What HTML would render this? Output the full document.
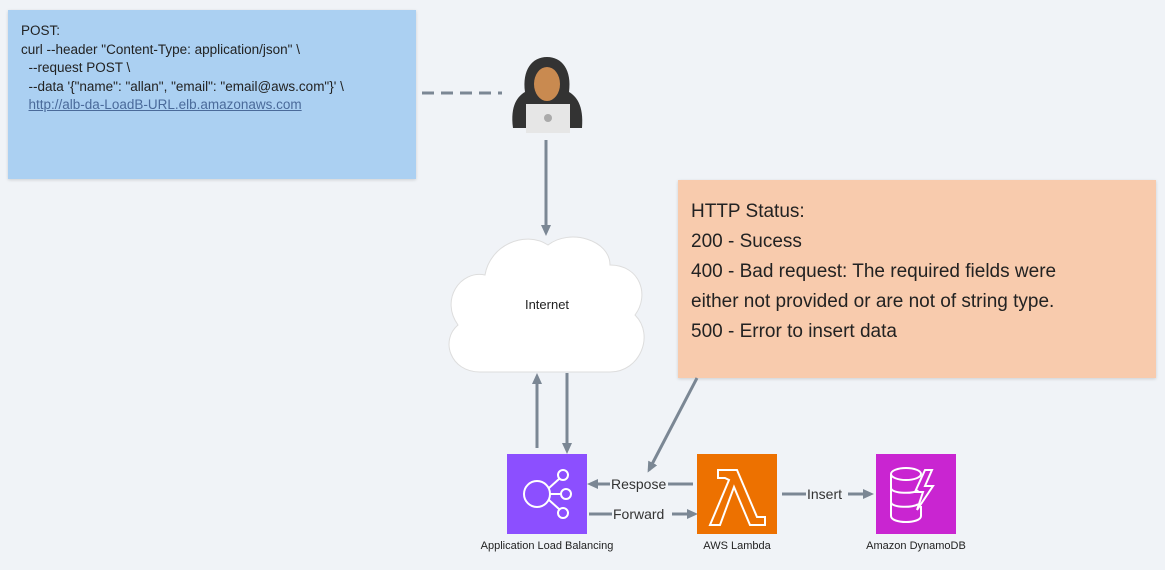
<!DOCTYPE html>
<html><head><style>
body{margin:0;width:1165px;height:570px;background:#f0f3f7;position:relative;overflow:hidden;font-family:"Liberation Sans",sans-serif}
.blue{position:absolute;left:8px;top:10px;width:408px;height:169px;background:#abd0f2;box-shadow:0 1px 3px rgba(0,0,0,.15);font-size:13.5px;color:#222;line-height:18.5px;padding:12px 13px;box-sizing:border-box;white-space:pre}
.orange{position:absolute;left:678px;top:180px;width:478px;height:198px;background:#f8cbad;box-shadow:0 1px 3px rgba(0,0,0,.15);font-size:19px;color:#222;line-height:30px;padding:17px 30px 17px 13px;box-sizing:border-box}
.lbl{position:absolute;font-size:11px;color:#222;text-align:center;width:200px}
</style></head><body>
<div class="blue">POST:
curl --header "Content-Type: application/json" \
  --request POST \
  --data '{"name": "allan", "email": "email@aws.com"}' \
  <span style="color:#4a6a9a;text-decoration:underline">http://alb-da-LoadB-URL.elb.amazonaws.com</span></div>
<div class="orange">HTTP Status:<br>200 - Sucess<br>400 - Bad request: The required fields were<br>either not provided or are not of string type.<br>500 - Error to insert data</div>
<svg width="1165" height="570" style="position:absolute;left:0;top:0">
<defs><marker id="a" markerWidth="11" markerHeight="10" refX="8" refY="5" orient="auto" markerUnits="userSpaceOnUse"><path d="M0,0 L11,5 L0,10 z" fill="#7b8794"/></marker></defs>
<g stroke="#7b8794" stroke-width="3" fill="none">
<line x1="422" y1="93" x2="502" y2="93" stroke-dasharray="12,7"/>
<line x1="546" y1="140" x2="546" y2="233" marker-end="url(#a)"/>
<line x1="537" y1="448" x2="537" y2="376" marker-end="url(#a)"/>
<line x1="567" y1="373" x2="567" y2="451" marker-end="url(#a)"/>
<line x1="697" y1="378" x2="649" y2="470" marker-end="url(#a)"/>
<line x1="693" y1="484" x2="668" y2="484"/><line x1="610" y1="484" x2="590" y2="484" marker-end="url(#a)"/>
<line x1="589" y1="514" x2="612" y2="514"/><line x1="672" y1="514" x2="695" y2="514" marker-end="url(#a)"/>
<line x1="782" y1="494" x2="806" y2="494"/><line x1="848" y1="494" x2="871" y2="494" marker-end="url(#a)"/>
</g>
<g fill="#fff" stroke="#ddd" stroke-width="1">
<path d="M480,372 C450,372 440,340 458,325 C440,300 460,270 485,275 C490,245 525,230 548,245 C570,228 610,240 610,265 C640,265 650,295 635,315 C655,335 640,372 610,372 Z"/>
</g>
<text x="547" y="309" font-size="13" text-anchor="middle" fill="#222" font-family="Liberation Sans">Internet</text>
<g font-size="14" fill="#333" font-family="Liberation Sans"><text x="611" y="489">Respose</text><text x="613" y="519">Forward</text><text x="807" y="499">Insert</text></g>
<path d="M513,128 C510,105 518,96 525,92 C522,70 532,57 547,57 C562,57 572,70 569,92 C576,96 584,105 582,128 Z" fill="#333"/>
<ellipse cx="547" cy="84" rx="13" ry="17" fill="#c98a50"/>
<rect x="526" y="104" width="44" height="29" fill="#e6e6e6"/>
<circle cx="548" cy="118" r="4" fill="#aaa"/>
<rect x="507" y="454" width="80" height="80" fill="#8c4fff"/>
<g stroke="#fff" stroke-width="2" fill="none"><circle cx="537" cy="494" r="13"/><circle cx="563" cy="475" r="5"/><circle cx="566" cy="494" r="5"/><circle cx="563" cy="513" r="5"/><path d="M549,488 L559,479 M550,494 L561,494 M549,500 L559,509"/></g>
<rect x="697" y="454" width="80" height="80" fill="#ed7100"/>
<path d="M718,470 L737,470 L757,517 L765,517 L765,525 L750,525 L734,487 L720,525 L710,525 L729,480 L725,478 L718,478 Z" fill="none" stroke="#fff" stroke-width="2"/>
<rect x="876" y="454" width="80" height="80" fill="#c925d1"/>
<g stroke="#fff" stroke-width="2" fill="none"><ellipse cx="906" cy="474" rx="15" ry="6"/><path d="M891,474 L891,516 C891,524 921,524 921,516 L921,506 M891,488 C891,494 916,494 918,490 M891,502 C891,508 914,508 918,504"/><path d="M925,470 L915,492 L923,492 L917,510 L933,486 L925,486 L932,470 Z"/></g>
</svg>
<div class="lbl" style="left:447px;top:540px">Application Load Balancing</div>
<div class="lbl" style="left:637px;top:540px">AWS Lambda</div>
<div class="lbl" style="left:816px;top:540px">Amazon DynamoDB</div>
</body></html>
